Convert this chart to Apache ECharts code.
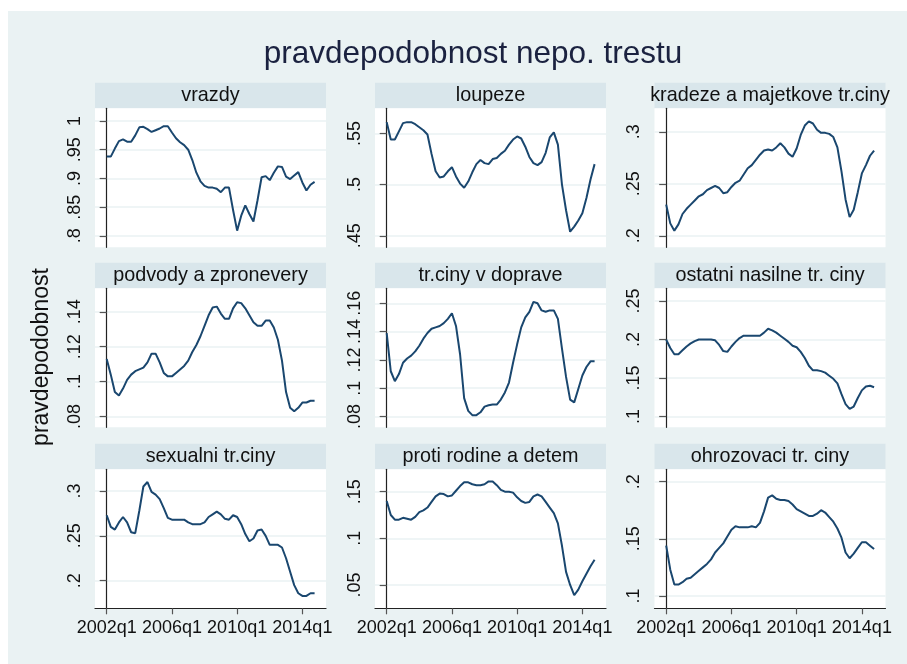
<!DOCTYPE html>
<html><head><meta charset="utf-8">
<script src="https://cdn.jsdelivr.net/npm/echarts@6/dist/echarts.min.js"></script>
<style>html,body{margin:0;padding:0;background:#fff}#c{width:907px;height:664px}</style>
</head><body><div id="c"></div>
<script>
// ---- data ----
const xTickLabels = ['2002q1', '2006q1', '2010q1', '2014q1'];
const xTickIndex = [0, 16, 32, 48]; // quarter index from 2002q1
const panelNames = ['vrazdy', 'loupeze', 'kradeze a majetkove tr.ciny',
  'podvody a zpronevery', 'tr.ciny v doprave', 'ostatni nasilne tr. ciny',
  'sexualni tr.ciny', 'proti rodine a detem', 'ohrozovaci tr. ciny'];

const vrazdy = [0.938,0.938,0.952,0.965,0.968,0.964,0.964,0.975,0.989,0.990,0.986,0.981,0.984,0.987,0.991,0.991,0.980,0.970,0.963,0.958,0.950,0.932,0.910,0.895,0.887,0.884,0.884,0.882,0.876,0.884,0.884,0.845,0.809,0.835,0.853,0.838,0.825,0.862,0.902,0.904,0.897,0.910,0.921,0.920,0.903,0.899,0.905,0.911,0.893,0.879,0.889,0.894];
const loupeze = [0.561,0.544,0.544,0.552,0.560,0.561,0.561,0.559,0.556,0.553,0.549,0.530,0.513,0.507,0.508,0.513,0.517,0.508,0.501,0.497,0.503,0.512,0.520,0.524,0.521,0.520,0.525,0.526,0.530,0.533,0.539,0.544,0.547,0.545,0.537,0.527,0.521,0.519,0.522,0.531,0.546,0.551,0.539,0.500,0.475,0.454,0.459,0.465,0.472,0.487,0.505,0.520];
const kradeze = [0.230,0.212,0.205,0.211,0.221,0.226,0.230,0.234,0.238,0.240,0.244,0.246,0.248,0.246,0.241,0.242,0.247,0.251,0.253,0.259,0.265,0.268,0.273,0.278,0.282,0.283,0.282,0.285,0.289,0.285,0.279,0.276,0.284,0.297,0.306,0.310,0.308,0.302,0.299,0.299,0.298,0.295,0.285,0.262,0.235,0.218,0.225,0.242,0.260,0.268,0.277,0.282];
const podvody = [0.113,0.104,0.094,0.092,0.096,0.101,0.104,0.106,0.107,0.108,0.111,0.116,0.116,0.111,0.105,0.103,0.103,0.105,0.107,0.109,0.112,0.117,0.121,0.126,0.132,0.138,0.1425,0.143,0.139,0.136,0.136,0.142,0.1455,0.145,0.142,0.138,0.134,0.132,0.132,0.135,0.135,0.131,0.124,0.112,0.094,0.085,0.083,0.085,0.088,0.088,0.089,0.089];
const doprava = [0.139,0.112,0.105,0.110,0.118,0.121,0.123,0.126,0.130,0.135,0.139,0.142,0.143,0.144,0.146,0.149,0.153,0.144,0.124,0.093,0.084,0.081,0.081,0.083,0.087,0.088,0.0885,0.0885,0.092,0.097,0.104,0.118,0.131,0.143,0.150,0.154,0.161,0.160,0.155,0.154,0.155,0.155,0.149,0.128,0.108,0.092,0.090,0.0995,0.109,0.115,0.119,0.119];
const nasilne = [0.200,0.189,0.181,0.181,0.186,0.191,0.195,0.198,0.200,0.200,0.200,0.200,0.199,0.193,0.185,0.184,0.191,0.197,0.202,0.205,0.205,0.205,0.205,0.205,0.209,0.214,0.212,0.209,0.205,0.201,0.197,0.192,0.190,0.184,0.176,0.166,0.160,0.160,0.159,0.157,0.153,0.149,0.143,0.129,0.116,0.110,0.113,0.124,0.134,0.139,0.140,0.138];
const sexualni = [0.273,0.260,0.257,0.265,0.271,0.265,0.254,0.253,0.278,0.305,0.310,0.299,0.296,0.291,0.281,0.270,0.268,0.268,0.268,0.268,0.265,0.263,0.263,0.263,0.265,0.271,0.274,0.277,0.274,0.269,0.268,0.273,0.271,0.263,0.252,0.244,0.247,0.256,0.257,0.250,0.240,0.240,0.240,0.237,0.225,0.210,0.195,0.186,0.183,0.183,0.186,0.186];
const rodina = [0.140,0.125,0.120,0.120,0.122,0.121,0.120,0.123,0.128,0.130,0.133,0.139,0.145,0.148,0.1475,0.145,0.146,0.151,0.156,0.160,0.160,0.158,0.157,0.157,0.158,0.161,0.161,0.157,0.152,0.150,0.150,0.149,0.144,0.140,0.138,0.139,0.145,0.147,0.145,0.139,0.133,0.127,0.116,0.092,0.064,0.050,0.039,0.045,0.054,0.062,0.070,0.077];
const ohrozovaci = [0.144,0.123,0.110,0.110,0.112,0.115,0.116,0.119,0.122,0.125,0.128,0.132,0.138,0.142,0.146,0.152,0.158,0.161,0.160,0.160,0.160,0.161,0.160,0.164,0.174,0.186,0.188,0.185,0.184,0.184,0.183,0.180,0.176,0.174,0.172,0.170,0.170,0.172,0.175,0.173,0.169,0.165,0.159,0.151,0.138,0.133,0.137,0.142,0.147,0.147,0.144,0.141];

const yTickValues = [
  [0.8, 0.85, 0.9, 0.95, 1], [0.45, 0.5, 0.55], [0.2, 0.25, 0.3],
  [0.08, 0.1, 0.12, 0.14], [0.08, 0.1, 0.12, 0.14, 0.16], [0.1, 0.15, 0.2, 0.25],
  [0.2, 0.25, 0.3], [0.05, 0.1, 0.15], [0.1, 0.15, 0.2]];
const yMin = [0.780, 0.4388, 0.189, 0.0738, 0.0724, 0.086, 0.1692, 0.025, 0.0892];
const yMax = [1.0222, 0.5745, 0.3226, 0.1535, 0.1706, 0.2666, 0.3242, 0.174, 0.2108];
const seriesValues = [vrazdy, loupeze, kradeze, podvody, doprava, nasilne, sexualni, rodina, ohrozovaci];

// ---- layout ----
const colLeft = [95, 375, 654.5], plotW = 231;
const rowTop = [108.3, 288.3, 469.3], plotH = 139;
const stripH = 25.5;
const FONT = "'Liberation Sans', Arial, sans-serif";

const grids = [], xAxes = [], yAxes = [], series = [], graphics = [];
graphics.push({type: 'rect', shape: {x: 8, y: 11, width: 899, height: 653}, style: {fill: '#EAF2F3'}, z: -10, silent: true});
graphics.push({type: 'text', x: 473, y: 54, style: {text: 'pravdepodobnost nepo. trestu', font: '31.5px ' + FONT, fill: '#1b2240', align: 'center', verticalAlign: 'middle'}});
graphics.push({type: 'text', x: 42, y: 357, rotation: Math.PI / 2, style: {text: 'pravdepodobnost', font: '23px ' + FONT, fill: '#111', align: 'center', verticalAlign: 'middle'}});

const fmtY = v => String(+(+v).toFixed(4)).replace(/^0\./, '.');

for (let k = 0; k < 9; k++) {
  const r = Math.floor(k / 3), c = k % 3;
  const left = colLeft[c], top = rowTop[r];
  grids.push({left: left, top: top, width: plotW, height: plotH, show: true, backgroundColor: '#fff', borderWidth: 0, containLabel: false});
  graphics.push({type: 'rect', shape: {x: left, y: top - stripH, width: plotW, height: stripH}, style: {fill: '#D9E6EB'}, z: -5, silent: true});
  graphics.push({type: 'text', x: left + plotW / 2, y: top - stripH / 2, style: {text: panelNames[k], font: '19.8px ' + FONT, fill: '#111', align: 'center', verticalAlign: 'middle'}});
  const bottomRow = r === 2;
  xAxes.push({
    type: 'value', gridIndex: k, min: -2.87, max: 53.8,
    axisLine: {show: bottomRow, onZero: false, lineStyle: {color: '#222', width: 1.2}},
    axisTick: {show: bottomRow, customValues: xTickIndex, length: 6, lineStyle: {color: '#555', width: 1.2}},
    axisLabel: {show: bottomRow, customValues: xTickIndex, margin: 11, fontSize: 18, fontFamily: FONT, color: '#111',
      formatter: v => xTickLabels[xTickIndex.indexOf(Math.round(v))]},
    splitLine: {show: false}
  });
  yAxes.push({
    type: 'value', gridIndex: k, min: yMin[k], max: yMax[k],
    axisLine: {show: true, lineStyle: {color: '#222', width: 1.2}},
    axisTick: {show: true, customValues: yTickValues[k], length: 7, lineStyle: {color: '#555', width: 1.2}},
    axisLabel: {customValues: yTickValues[k], rotate: 90, margin: 11, fontSize: 18, fontFamily: FONT, color: '#111', formatter: fmtY, hideOverlap: false},
    splitLine: {show: true, lineStyle: {color: '#EAF2F3', width: 1.6}}
  });
  series.push({
    type: 'line', xAxisIndex: k, yAxisIndex: k, showSymbol: false, symbol: 'none',
    data: seriesValues[k].map((v, i) => [i, v]),
    lineStyle: {color: '#1A476F', width: 2}, animation: false
  });
}

const chart = echarts.init(document.getElementById('c'), null, {renderer: 'canvas'});
chart.setOption({
  backgroundColor: '#fff', animation: false,
  grid: grids, xAxis: xAxes, yAxis: yAxes, series: series, graphic: graphics
});
</script></body></html>
